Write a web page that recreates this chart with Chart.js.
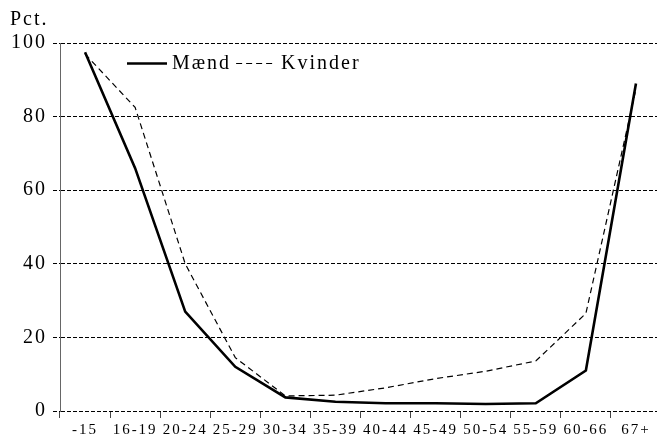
<!DOCTYPE html>
<html>
<head>
<meta charset="utf-8">
<script src="https://cdn.jsdelivr.net/npm/chart.js@4/dist/chart.umd.min.js"></script>
<style>
  html, body { margin: 0; padding: 0; background: #fff; overflow: hidden; }
  #wrap { width: 657px; height: 436px; overflow: hidden; }
</style>
</head>
<body>
<div id="wrap"><canvas id="cv" width="661" height="436"></canvas></div>
<script>
// aldersgrupper og andele i pct.
const labels = ['-15', '16-19', '20-24', '25-29', '30-34', '35-39', '40-44', '45-49', '50-54', '55-59', '60-66', '67+'];
const maend = [97.5, 66, 27, 12, 3.7, 2.5, 2.1, 2.1, 1.9, 2.1, 11, 89];
const kvinder = [97, 82.5, 40, 14.5, 4.1, 4.3, 6.3, 8.8, 10.8, 13.6, 26.5, 87.5];
const yTicks = [0, 20, 40, 60, 80, 100];

const serif = '"Liberation Serif", "Times New Roman", serif';
const letterSp = '2px';

// lidt luft mellem bogstaverne som i originalen
const spacing = {
  id: 'spacing',
  beforeLayout(chart) { chart.ctx.letterSpacing = letterSp; },
  beforeDraw(chart) { chart.ctx.letterSpacing = letterSp; }
};

// forklaring inde i plottet
const legendInside = {
  id: 'legendInside',
  afterDatasetsDraw(chart) {
    const { ctx, chartArea } = chart;
    let x = chartArea.left + 67;
    const y = chartArea.top + 20.5;
    ctx.save();
    ctx.letterSpacing = letterSp;
    ctx.font = '20px ' + serif;
    ctx.textBaseline = 'middle';
    ctx.textAlign = 'left';
    for (const ds of chart.data.datasets) {
      ctx.beginPath();
      ctx.setLineDash(ds.borderDash || []);
      ctx.lineWidth = ds.borderWidth;
      ctx.strokeStyle = ds.borderColor;
      ctx.moveTo(x, y);
      ctx.lineTo(x + 40, y);
      ctx.stroke();
      ctx.setLineDash([]);
      ctx.fillStyle = '#000';
      ctx.fillText(ds.label, x + 45, y);
      x += 45 + ctx.measureText(ds.label).width + 5;
    }
    ctx.restore();
  }
};

const ctx = document.getElementById('cv').getContext('2d');

new Chart(ctx, {
  type: 'line',
  data: {
    labels,
    datasets: [{
      label: 'Mænd',
      data: maend,
      borderColor: '#000',
      borderWidth: 2.6,
      pointRadius: 0,
      tension: 0,
      fill: false
    }, {
      label: 'Kvinder',
      data: kvinder,
      borderColor: '#000',
      borderWidth: 1.2,
      borderDash: [6, 4],
      pointRadius: 0,
      tension: 0,
      fill: false
    }]
  },
  options: {
    responsive: false,
    animation: false,
    devicePixelRatio: 1,
    layout: { padding: { left: 10, top: 2, right: 0, bottom: 0 } },
    plugins: {
      legend: { display: false },
      tooltip: { enabled: false },
      title: {
        display: true,
        text: 'Pct.',
        align: 'start',
        color: '#000',
        font: { family: serif, size: 20, weight: 'normal' },
        padding: { top: 6, bottom: 11 }
      }
    },
    scales: {
      x: {
        offset: true,
        grid: {
          offset: true,
          drawOnChartArea: false,
          drawTicks: true,
          tickLength: 7,
          color: '#444'
        },
        border: { display: false },
        ticks: {
          color: '#000',
          padding: 3,
          maxRotation: 0,
          autoSkip: false,
          font: { family: serif, size: 15 }
        },
        afterFit(scale) { scale.height = 25; }
      },
      y: {
        min: 0,
        max: 100,
        afterBuildTicks(scale) { scale.ticks = yTicks.map(v => ({ value: v })); },
        grid: {
          color: '#000',
          lineWidth: 1,
          tickLength: 7,
          tickBorderDash: [4, 2],
          tickColor: '#000'
        },
        // i v4 styrer border.dash de stiplede gitterlinjer
        border: { display: true, color: '#666', width: 1, dash: [4, 2] },
        ticks: {
          color: '#000',
          padding: 6,
          font: { family: serif, size: 20 }
        },
        afterFit(scale) { scale.width = 50; }
      }
    }
  },
  plugins: [spacing, legendInside]
});
</script>
</body>
</html>
